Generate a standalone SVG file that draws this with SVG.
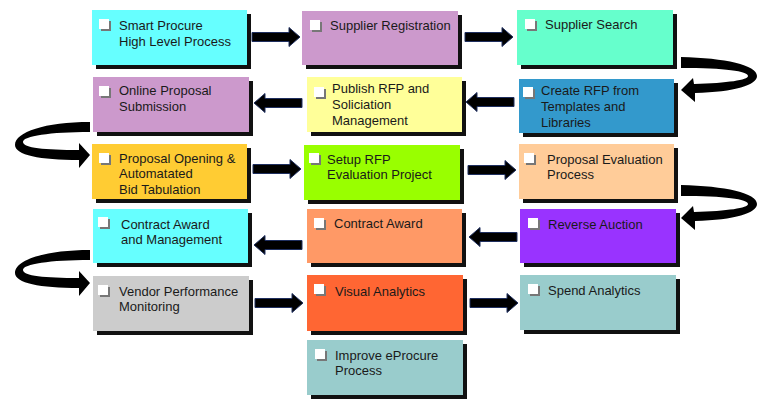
<svg xmlns="http://www.w3.org/2000/svg" xmlns:xlink="http://www.w3.org/1999/xlink" width="767" height="409" viewBox="0 0 767 409">
<style>
.sh{fill:#111;}
.cbs{fill:#777;}
.cb{fill:#fff;}
.t{font-family:"Liberation Sans",Arial,sans-serif;font-size:13px;fill:#1a1a1a;}
.arr{fill:#000;stroke:#1f2f5f;stroke-width:1;}
.carr{fill:#000;}
</style>
<defs>
<path id="ar" class="arr" d="M0,-4.5 L37,-4.5 L37,-9.5 L48,0 L37,9.5 L37,4.5 L0,4.5 Z"/>
<path id="cr" class="carr" d="M681,57 C725,58 757,65 757,76 C757,85 735,92 695,93 L695,102 L681,90 L693,78 L694,84 C728,83 748,80 748,76 C748,71 725,68 681,68 Z"/>
<path id="cl" class="carr" d="M90,122 C45,122 15,132 15,145 C15,155 40,160 79,160 L79,168 L90,155 L79,143 L79,150 C45,150 23,148 23,142 C23,136 50,132 90,132 Z"/>
<g id="cbx"><rect class="cbs" x="2" y="2" width="10" height="10"/><rect class="cb" x="0" y="0" width="10" height="10"/></g>
</defs>
<rect width="767" height="409" fill="#fff"/>
<g id="connectors">
<use xlink:href="#ar" transform="translate(252,37)"/>
<use xlink:href="#ar" transform="translate(465,37)"/>
<use xlink:href="#ar" transform="translate(302,103) scale(-1,1)"/>
<use xlink:href="#ar" transform="translate(514,102) scale(-1,1)"/>
<use xlink:href="#ar" transform="translate(253,169)"/>
<use xlink:href="#ar" transform="translate(468,170)"/>
<use xlink:href="#ar" transform="translate(302,245) scale(-1,1)"/>
<use xlink:href="#ar" transform="translate(517,237) scale(-1,1)"/>
<use xlink:href="#ar" transform="translate(255,303)"/>
<use xlink:href="#ar" transform="translate(470,303)"/>
<use xlink:href="#cr"/>
<use xlink:href="#cr" transform="translate(0,128)"/>
<use xlink:href="#cl"/>
<use xlink:href="#cl" transform="translate(0,128)"/>
</g>
<g id="n1"><rect class="sh" x="96" y="14" width="155" height="55"/><rect x="92" y="10" width="155" height="55" fill="#66FFFF"/><use xlink:href="#cbx" x="99" y="19"/><text class="t" x="119" y="30">Smart Procure</text><text class="t" x="119" y="46">High Level Process</text></g>
<g id="n2"><rect class="sh" x="306" y="15" width="156" height="54"/><rect x="302" y="11" width="156" height="54" fill="#CC99CC"/><use xlink:href="#cbx" x="310" y="20"/><text class="t" x="330" y="30">Supplier Registration</text></g>
<g id="n3"><rect class="sh" x="521" y="14" width="156" height="55"/><rect x="517" y="10" width="156" height="55" fill="#66FFCC"/><use xlink:href="#cbx" x="525" y="19"/><text class="t" x="545" y="29">Supplier Search</text></g>
<g id="n4"><rect class="sh" x="97" y="81" width="156" height="55"/><rect x="93" y="77" width="156" height="55" fill="#CC99CC"/><use xlink:href="#cbx" x="99" y="86"/><text class="t" x="119" y="95">Online Proposal</text><text class="t" x="119" y="111">Submission</text></g>
<g id="n5"><rect class="sh" x="311" y="81" width="155" height="55"/><rect x="307" y="77" width="155" height="55" fill="#FFFF99"/><use xlink:href="#cbx" x="314" y="87"/><text class="t" x="332" y="93">Publish RFP and</text><text class="t" x="332" y="109">Soliciation</text><text class="t" x="332" y="125">Management</text></g>
<g id="n6"><rect class="sh" x="523" y="83" width="155" height="54"/><rect x="519" y="79" width="155" height="54" fill="#3399CC"/><use xlink:href="#cbx" x="523" y="87"/><text class="t" x="541" y="95">Create RFP from</text><text class="t" x="541" y="111">Templates and</text><text class="t" x="541" y="127">Libraries</text></g>
<g id="n7"><rect class="sh" x="96" y="148" width="155" height="55"/><rect x="92" y="144" width="155" height="55" fill="#FFCC33"/><use xlink:href="#cbx" x="99" y="153"/><text class="t" x="119" y="163">Proposal Opening &amp;</text><text class="t" x="119" y="178">Automatated</text><text class="t" x="119" y="194">Bid Tabulation</text></g>
<g id="n8"><rect class="sh" x="308" y="149" width="156" height="55"/><rect x="304" y="145" width="156" height="55" fill="#99FF00"/><use xlink:href="#cbx" x="309" y="153"/><text class="t" x="327" y="164">Setup RFP</text><text class="t" x="327" y="179">Evaluation Project</text></g>
<g id="n9"><rect class="sh" x="523" y="148" width="155" height="55"/><rect x="519" y="144" width="155" height="55" fill="#FFCC99"/><use xlink:href="#cbx" x="524" y="153"/><text class="t" x="547" y="164">Proposal Evaluation</text><text class="t" x="547" y="179">Process</text></g>
<g id="n10"><rect class="sh" x="97" y="213" width="155" height="54"/><rect x="93" y="209" width="155" height="54" fill="#66FFFF"/><use xlink:href="#cbx" x="98" y="217"/><text class="t" x="121" y="229">Contract Award</text><text class="t" x="121" y="244">and Management</text></g>
<g id="n11"><rect class="sh" x="311" y="213" width="155" height="54"/><rect x="307" y="209" width="155" height="54" fill="#FF9966"/><use xlink:href="#cbx" x="314" y="218"/><text class="t" x="334" y="228">Contract Award</text></g>
<g id="n12"><rect class="sh" x="524" y="213" width="156" height="54"/><rect x="520" y="209" width="156" height="54" fill="#9933FF"/><use xlink:href="#cbx" x="528" y="218"/><text class="t" x="548" y="229">Reverse Auction</text></g>
<g id="n13"><rect class="sh" x="97" y="280" width="156" height="55"/><rect x="93" y="276" width="156" height="55" fill="#CCCCCC"/><use xlink:href="#cbx" x="98" y="285"/><text class="t" x="119" y="296">Vendor Performance</text><text class="t" x="119" y="311">Monitoring</text></g>
<g id="n14"><rect class="sh" x="311" y="279" width="156" height="56"/><rect x="307" y="275" width="156" height="56" fill="#FF6633"/><use xlink:href="#cbx" x="314" y="284"/><text class="t" x="335" y="296">Visual Analytics</text></g>
<g id="n15"><rect class="sh" x="524" y="279" width="156" height="55"/><rect x="520" y="275" width="156" height="55" fill="#99CCCC"/><use xlink:href="#cbx" x="528" y="284"/><text class="t" x="548" y="295">Spend Analytics</text></g>
<g id="n16"><rect class="sh" x="311" y="344" width="156" height="55"/><rect x="307" y="340" width="156" height="55" fill="#99CCCC"/><use xlink:href="#cbx" x="315" y="349"/><text class="t" x="335" y="360">Improve eProcure</text><text class="t" x="335" y="375">Process</text></g>
</svg>
